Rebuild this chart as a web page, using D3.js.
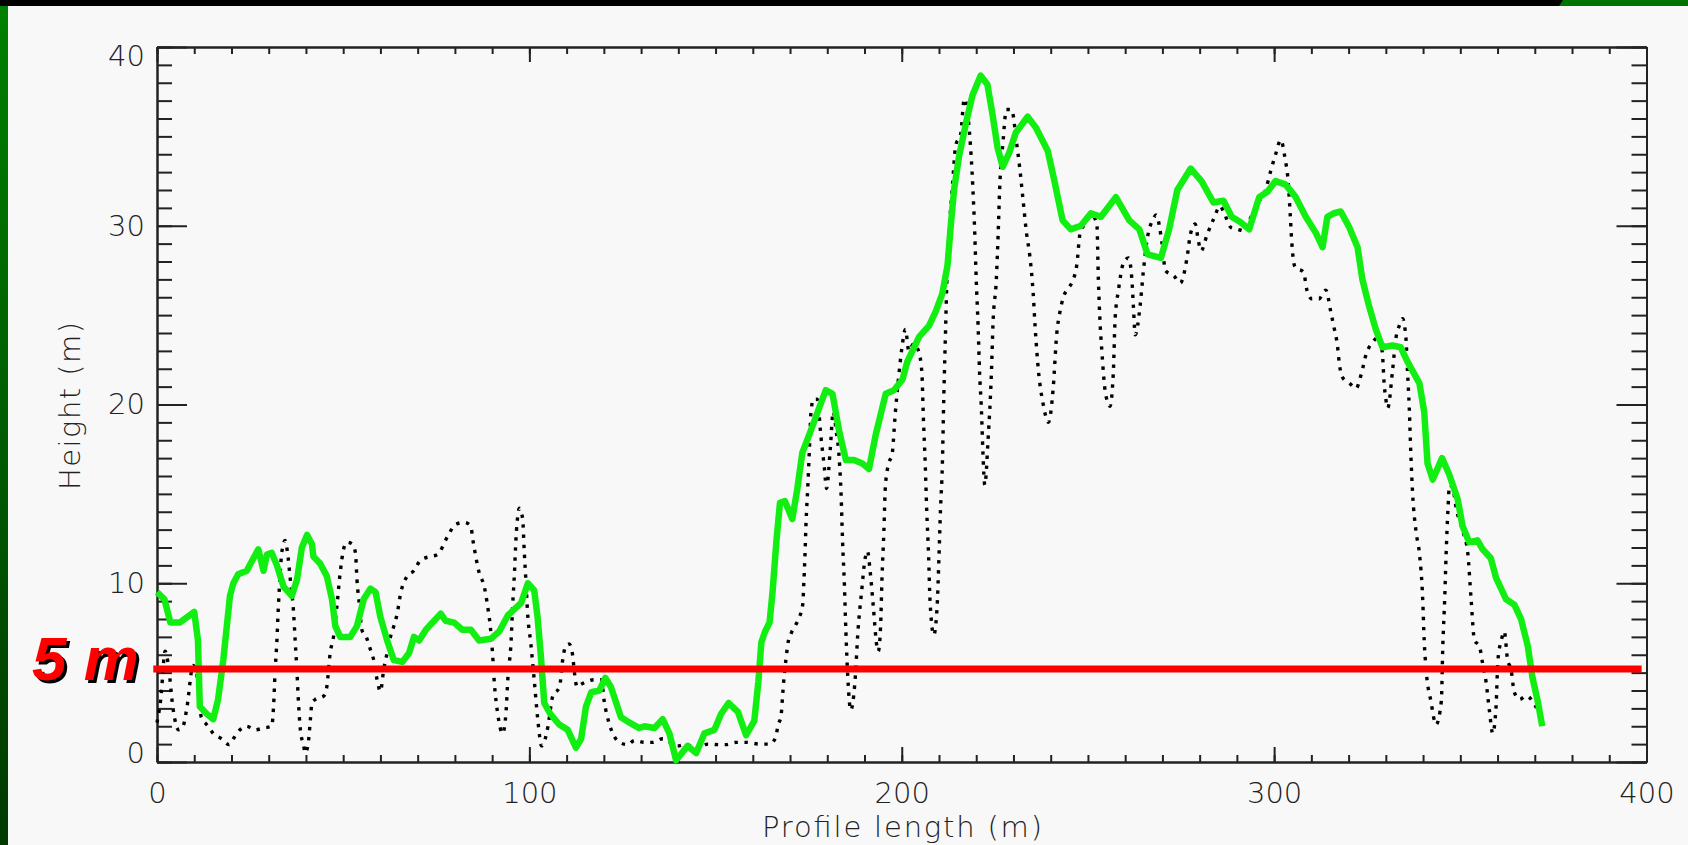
<!DOCTYPE html>
<html>
<head>
<meta charset="utf-8">
<script src="https://cdn.jsdelivr.net/npm/d3@7"></script>
<style>
  body { margin: 0; background: #f8f8f8; }
  svg { display: block; }
  .tick text { font-family: "DejaVu Sans", sans-serif; font-weight: 200; fill: #222; }
</style>
</head>
<body>
<svg id="canvas"></svg>
<script>
const width = 1688, height = 845;

/* data */
const xTicks = [0, 100, 200, 300, 400];
const yTicks = [0, 10, 20, 30, 40];
const threshold = 5.2;

const smoothDist = [0, 2, 3.6, 6.1, 10, 11, 11.5, 13.3, 15.1, 16.4, 17.8, 19.6, 20.5, 21.8, 24.1, 25.9, 27.2, 28.6, 29.5, 30.8,
  32.2, 34, 36.2, 37.6, 38.9, 40.3, 41.6, 42, 43.8, 45.6, 47, 47.9, 49.2, 51.9, 53.7, 55.5, 57.3, 58.7, 60, 61.8,
  63.6, 65.9, 67.7, 69, 70.4, 72.2, 74, 76.2, 77.5, 79.8, 82, 84.3, 86.5, 89.7, 91.9, 94.2, 97.8, 99.6, 101.3, 102.2,
  103.1, 104, 105.6, 108, 110.3, 112.5, 113.9, 115.2, 116.6, 118.8, 120.4, 121.9, 124.6, 126.9, 129.5, 130.9, 133.6, 135.8, 137.6, 139.4,
  142.5, 144.8, 147, 149.7, 151.5, 153.5, 156, 158.2, 160.4, 161.5, 162.3, 163.3, 164.5, 165.3, 166.4, 167.3, 168.6, 170.6, 171.9, 173.3,
  175.5, 177.8, 179.6, 181.4, 183.2, 185, 187.2, 189.4, 191.2, 193, 195.7, 197.9, 200.2, 201.5, 204.7, 207.3, 209.1, 210.9, 212.3, 213.2,
  214.1, 215.4, 217.2, 219, 221.2, 223, 224.4, 225.7, 227.1, 228.9, 230.6, 233.8, 236, 239.2, 240.9, 243.2, 245.4, 248.1, 250.8, 253.5,
  257.5, 261.1, 263.8, 266, 269.6, 271.8, 274, 277.6, 280.5, 283.7, 286.4, 288.6, 291, 293.3, 296, 298.2, 300.4, 303.1, 305.8, 308.5,
  311.2, 313, 314.3, 316.1, 317.9, 320.2, 322.4, 323.7, 325.5, 327.3, 329.1, 331.8, 334, 335.8, 339, 340.3, 341.2, 342.6, 345.1, 347,
  349.3, 350.6, 352.4, 354.6, 356, 358.2, 359.6, 362.3, 364.5, 366.3, 368.1, 369.4, 370.8, 372];
const smoothHeight = [9.5, 9.1, 7.8, 7.8, 8.4, 6.8, 3.1, 2.7, 2.4, 3.5, 5.7, 9.3, 10.0, 10.5, 10.7, 11.4, 11.9, 10.7, 11.6, 11.7,
  11.0, 9.8, 9.3, 10.2, 12.0, 12.7, 12.2, 11.5, 11.1, 10.4, 9.1, 7.6, 7.0, 7.0, 7.6, 9.1, 9.7, 9.5, 8.1, 6.8,
  5.7, 5.6, 6.1, 7.0, 6.8, 7.4, 7.8, 8.3, 7.9, 7.8, 7.4, 7.4, 6.8, 6.9, 7.3, 8.2, 8.9, 10.0, 9.6, 8.1,
  5.9, 3.3, 2.7, 2.1, 1.8, 0.8, 1.3, 3.1, 3.9, 4.0, 4.7, 4.2, 2.5, 2.2, 1.9, 2.0, 1.9, 2.4, 1.6, 0.1,
  0.9, 0.5, 1.6, 1.8, 2.7, 3.3, 2.8, 1.5, 2.3, 4.5, 6.7, 7.3, 7.8, 9.5, 12.5, 14.5, 14.6, 13.6, 15.2, 17.3,
  18.5, 19.8, 20.8, 20.6, 18.5, 16.9, 16.9, 16.7, 16.4, 18.3, 20.6, 20.8, 21.4, 22.4, 23.8, 24.4, 25.2, 26.2, 27.8, 30.1,
  32.1, 33.9, 35.7, 37.3, 38.4, 37.9, 36.2, 34.4, 33.3, 34.1, 35.2, 36.1, 35.5, 34.2, 32.6, 30.3, 29.8, 30.0, 30.7, 30.5,
  31.6, 30.3, 29.8, 28.4, 28.2, 29.8, 32.0, 33.2, 32.5, 31.3, 31.4, 30.5, 30.2, 29.8, 31.6, 31.9, 32.5, 32.3, 31.6, 30.5,
  29.6, 28.8, 30.5, 30.7, 30.8, 29.9, 28.8, 27.0, 25.5, 24.2, 23.2, 23.3, 23.2, 22.4, 21.2, 19.6, 16.7, 15.8, 17.0, 16.1,
  14.7, 13.2, 12.3, 12.4, 11.9, 11.4, 10.3, 9.1, 8.8, 8.0, 6.5, 4.7, 3.4, 2.0];

const rawDist = [0, 1, 2.2, 3, 4.3, 5.8, 7, 8, 9.7, 10.6, 11.9, 13.3, 15.1, 17.3, 19.4, 20.5, 22.3, 24.1, 26.3, 28.6,
  30.8, 31.3, 31.7, 32.2, 32.6, 33.1, 33.5, 34.4, 35, 35.8, 36.7, 37.1, 37.6, 38, 38.5, 39.4, 39.8, 40.7, 41.2, 41.6,
  42.5, 44.8, 45.6, 46.5, 47.4, 48.3, 49.2, 50.1, 51, 52.4, 53.3, 53.7, 54.4, 55, 56.2, 57.3, 58.2, 59.1, 60, 60.9,
  61.8, 62.7, 63.6, 64.5, 65.4, 67.2, 69, 70.8, 73.5, 75.3, 78, 80.2, 82.5, 84.3, 84.7, 85.6, 86.5, 87.9, 88.8, 89.5,
  90.1, 90.6, 91.5, 92.8, 93.7, 94.2, 95.1, 95.5, 96, 96.4, 96.9, 97.3, 98.2, 98.6, 99.1, 99.5, 100.4, 101.3, 102.2, 103.3,
  104.5, 105, 106.3, 108.1, 109, 109.8, 110.7, 111.6, 112.1, 112.8, 113.5, 115.5, 117.5, 119.3, 120.1, 121.5, 122.4, 124.2, 126.4, 128.2,
  130.9, 133.1, 135.8, 139.8, 142.1, 144.8, 147.9, 151, 152.8, 155.5, 158.2, 161.8, 164.5, 166.2, 166.7, 167.6, 168, 168.5, 169, 169.4,
  170.3, 171.6, 172.5, 173.4, 173.7, 174, 174.3, 174.8, 175.2, 175.6, 176.3, 177.3, 178.3, 179.2, 179.8, 180.8, 181.6, 182.4, 183.2, 183.7,
  184.1, 184.6, 185, 185.5, 186.3, 187.4, 188.3, 189.2, 190.1, 190.8, 191.5, 192.4, 193.3, 193.7, 194.3, 194.7, 195.2, 195.6, 196.5, 197.4,
  198.3, 199.1, 200, 201, 201.9, 203.2, 204.5, 205.4, 205.8, 206.3, 206.7, 207.2, 207.6, 208.6, 209.5, 210, 210.4, 210.9, 211.3, 211.8,
  212.2, 212.7, 213.6, 214.5, 215.8, 216.8, 218.2, 219.1, 219.6, 220, 220.5, 220.9, 221.4, 221.8, 222.3, 223.2, 224.1, 224.5, 225.4, 225.9,
  226.3, 227.2, 228.1, 229.5, 230.8, 231.7, 232.6, 233.5, 234.4, 235.3, 235.8, 236.7, 238, 239.4, 240.7, 241.6, 242.5, 243.4, 244.7, 246.1,
  247, 247.9, 249.2, 251, 252.4, 252.8, 253.3, 253.7, 254.6, 255.9, 256.8, 257.3, 258.2, 259.5, 260.9, 261.8, 262.2, 262.7, 264, 264.9,
  265.8, 267.6, 268.3, 269.9, 270.8, 273.1, 274.8, 276.6, 277.5, 278.8, 279.7, 280.4, 282, 283.8, 285.5, 286.4, 288.4, 290.2, 292.3, 293.6,
  295.4, 297.7, 299, 300.4, 301.8, 302.9, 303.8, 304.3, 304.7, 305.6, 307.9, 308.8, 310.2, 312, 313.9, 315.2, 316.1, 317, 317.5, 318.4,
  320.2, 322, 323.4, 324.7, 326.5, 328.2, 329.1, 329.5, 330, 330.5, 331.8, 332.7, 333.6, 334.5, 335.4, 335.8, 336.3, 336.7, 337.2, 338.1,
  339, 339.9, 340.3, 340.8, 342.1, 343.5, 344.9, 345.3, 345.8, 346.2, 346.7, 347.1, 348, 348.9, 350.7, 352, 352.9, 353.8, 355.1, 356,
  356.9, 357.8, 358.7, 359.6, 360.1, 361, 361.8, 362.7, 363.6, 364.5, 365.9, 367.7, 369.4, 370.7, 371.7];
const rawHeight = [2.2, 3.5, 6.2, 5.5, 3.0, 1.8, 2.0, 3.0, 5.4, 5.0, 2.5, 2.1, 1.6, 1.3, 0.97, 1.3, 1.8, 2.0, 1.8, 1.9,
  2.0, 3.1, 5.0, 6.8, 8.7, 10.6, 11.7, 12.4, 11.8, 10.2, 8.3, 6.8, 5.0, 3.3, 1.8, 0.9, 0.5, 1.2, 2.4, 3.3,
  3.5, 3.7, 4.2, 6.1, 7.0, 8.7, 10.6, 11.9, 12.3, 12.2, 11.7, 10.2, 8.7, 7.4, 7.0, 6.3, 5.7, 4.6, 3.95, 5.2,
  6.1, 7.0, 7.6, 8.3, 9.4, 10.4, 10.7, 11.3, 11.5, 11.6, 12.6, 13.3, 13.4, 13.2, 12.6, 11.5, 10.6, 9.8, 8.7, 7.6,
  6.1, 4.4, 2.7, 1.6, 2.7, 4.6, 6.8, 8.7, 10.6, 12.5, 13.8, 14.2, 13.6, 11.9, 10.0, 8.4, 6.6, 4.6, 2.5, 0.9,
  1.5, 2.0, 3.7, 4.2, 5.8, 6.5, 6.6, 6.0, 5.0, 4.2, 4.3, 4.5, 4.6, 4.6, 3.4, 2.1, 1.6, 1.1, 0.97, 1.2,
  1.1, 1.1, 1.3, 0.9, 1.0, 0.7, 1.0, 0.97, 0.97, 1.1, 1.1, 1.0, 1.0, 1.4, 2.0, 2.6, 3.7, 5.0, 5.9, 6.6,
  7.2, 7.7, 8.1, 8.8, 10, 11.5, 13.4, 15.5, 17.5, 19.5, 20.3, 20.3, 18.2, 16.5, 15.3, 17.5, 19.6, 18.5, 17.0, 15.0,
  12.4, 9.9, 7.3, 4.8, 2.9, 4.4, 7.5, 9.5, 11.3, 11.8, 10.7, 8.6, 6.5, 6.2, 7.5, 10.3, 12.9, 15.4, 16.7, 17.2,
  19.6, 21.4, 23.1, 24.2, 23.0, 23.4, 23.0, 21.8, 19.3, 16.7, 14.1, 11.6, 9.0, 7.1, 8.7, 11.5, 14.1, 16.6, 20.5, 24.4,
  27.5, 29.6, 32.2, 34.5, 35.1, 37.1, 35.2, 32.1, 29.6, 27.0, 24.4, 21.8, 19.7, 17.3, 15.5, 18.1, 21.9, 24.5, 27.0, 29.6,
  32.1, 34.7, 36.5, 36.5, 34.7, 33.2, 31.4, 29.6, 28.3, 26.2, 24.4, 21.9, 20.0, 19.0, 21.0, 23.9, 25.2, 26.0, 26.5, 27.0,
  27.8, 29.6, 30.1, 30.6, 30.1, 27.0, 24.4, 23.1, 20.8, 19.9, 21.7, 24.8, 26.4, 27.9, 28.2, 27.0, 25.5, 23.9, 25.5, 27.5,
  29.1, 30.4, 30.6, 29.0, 27.5, 27.2, 26.8, 28.2, 29.5, 30.1, 29.1, 28.6, 29.5, 30.4, 31.1, 30.8, 29.9, 29.8, 29.7, 30.4,
  31.2, 32.0, 33.0, 34.0, 34.8, 33.8, 32.4, 30.7, 29.2, 27.7, 27.4, 26.4, 25.9, 25.9, 26.4, 25.2, 24.3, 23.3, 22.3, 21.5,
  21.2, 20.9, 21.7, 22.8, 23.5, 23.8, 22.8, 21.3, 20.3, 19.8, 21.9, 23.7, 24.4, 24.8, 23.7, 21.9, 19.8, 17.3, 15.0, 12.9,
  11.7, 9.1, 6.8, 5.2, 3.4, 2.1, 3.4, 6.5, 9.1, 11.7, 14.2, 15.5, 15.3, 14.2, 12.9, 11.7, 9.1, 6.8, 6.5, 5.5,
  4.5, 2.9, 1.6, 3.1, 5.7, 6.8, 7.3, 5.7, 5.2, 3.9, 3.5, 3.7, 3.4, 2.9, 2.3];

/* Sets up svg */
const svg = d3.select("#canvas")
    .attr("width", width)
    .attr("height", height)
    .style("background-color", "#f8f8f8");

/* slide decoration: black top bar, green strips */
const defs = svg.append("defs");
const grad = defs.append("linearGradient")
    .attr("id", "sideGreen")
    .attr("x1", 0).attr("y1", 0).attr("x2", 0).attr("y2", 1);
grad.append("stop").attr("offset", "0%").attr("stop-color", "#008000");
grad.append("stop").attr("offset", "100%").attr("stop-color", "#003a00");

svg.append("rect")
    .attr("x", 0).attr("y", 6)
    .attr("width", 8).attr("height", height - 6)
    .attr("fill", "url(#sideGreen)");
svg.append("rect")
    .attr("x", 0).attr("y", 0)
    .attr("width", width).attr("height", 6)
    .attr("fill", "#000");
svg.append("path")
    .attr("d", "M1559,6 L1563,0 L1688,0 L1688,6 Z")
    .attr("fill", "#007400");

/* scales */
const x = d3.scaleLinear().domain([0, 400]).range([157, 1646.5]);
const y = d3.scaleLinear().domain([0, 40]).range([762, 47]);

const xMinor = d3.range(0, 401, 10);
const yMinor = d3.range(0, 41, 1);

function styleAxis(g) {
    g.select(".domain").attr("stroke", "#222").attr("stroke-width", 2);
    g.selectAll(".tick line").attr("stroke", "#222").attr("stroke-width", 2);
}

/* minor ticks */
svg.append("g").attr("transform", `translate(0,${y(0)})`)
    .call(d3.axisBottom(x).tickValues(xMinor).tickSize(-7).tickSizeOuter(0).tickFormat(""))
    .call(styleAxis);
svg.append("g").attr("transform", `translate(0,${y(40)})`)
    .call(d3.axisTop(x).tickValues(xMinor).tickSize(-7).tickSizeOuter(0).tickFormat(""))
    .call(styleAxis);
svg.append("g").attr("transform", `translate(${x(0)},0)`)
    .call(d3.axisLeft(y).tickValues(yMinor).tickSize(-15).tickSizeOuter(0).tickFormat(""))
    .call(styleAxis);
svg.append("g").attr("transform", `translate(${x(400)},0)`)
    .call(d3.axisRight(y).tickValues(yMinor).tickSize(-15).tickSizeOuter(0).tickFormat(""))
    .call(styleAxis);

/* major ticks and labels */
const xAxis = svg.append("g").attr("transform", `translate(0,${y(0)})`)
    .call(d3.axisBottom(x).tickValues(xTicks).tickSize(-15).tickSizeOuter(0).tickPadding(20).tickFormat(d3.format("d")))
    .call(styleAxis);
svg.append("g").attr("transform", `translate(0,${y(40)})`)
    .call(d3.axisTop(x).tickValues(xTicks).tickSize(-15).tickSizeOuter(0).tickFormat(""))
    .call(styleAxis);
const yAxis = svg.append("g").attr("transform", `translate(${x(0)},0)`)
    .call(d3.axisLeft(y).tickValues(yTicks).tickSize(-30).tickSizeOuter(0).tickPadding(12).tickFormat(d3.format("d")))
    .call(styleAxis);
svg.append("g").attr("transform", `translate(${x(400)},0)`)
    .call(d3.axisRight(y).tickValues(yTicks).tickSize(-30).tickSizeOuter(0).tickFormat(""))
    .call(styleAxis);

xAxis.selectAll("text").attr("font-size", 29);
yAxis.selectAll("text").attr("font-size", 29);
/* end labels sit inside the axis range */
yAxis.selectAll(".tick text").attr("y", d => d === 40 ? 9 : d === 0 ? -9 : 0);

/* axis titles */
svg.append("text")
    .attr("x", 902).attr("y", 837)
    .attr("text-anchor", "middle")
    .attr("font-family", "DejaVu Sans, sans-serif")
    .attr("font-weight", 200)
    .attr("font-size", 29)
    .attr("fill", "#222")
    .attr("textLength", 280)
    .text("Profile length (m)");
svg.append("text")
    .attr("transform", "translate(80,406) rotate(-90)")
    .attr("text-anchor", "middle")
    .attr("font-family", "DejaVu Sans, sans-serif")
    .attr("font-weight", 200)
    .attr("font-size", 29)
    .attr("fill", "#222")
    .attr("textLength", 168)
    .text("Height (m)");

/* lines */
const rawLine = d3.line()
    .x((d, i) => x(rawDist[i]))
    .y(d => y(d))
    .curve(d3.curveMonotoneX);
const smoothLine = d3.line()
    .x((d, i) => x(smoothDist[i]))
    .y(d => y(d));

svg.append("path")
    .datum(rawHeight)
    .attr("d", rawLine)
    .attr("fill", "none")
    .attr("stroke", "#000")
    .attr("stroke-width", 3.4)
    .attr("stroke-dasharray", "3.4 6.6");

svg.append("path")
    .datum(smoothHeight)
    .attr("d", smoothLine)
    .attr("fill", "none")
    .attr("stroke", "#12ee12")
    .attr("stroke-width", 6.5)
    .attr("stroke-linejoin", "round");

/* 5 m threshold */
svg.append("line")
    .attr("x1", x(-1)).attr("x2", x(398.7))
    .attr("y1", y(threshold)).attr("y2", y(threshold))
    .attr("stroke", "#ff0000")
    .attr("stroke-width", 7);

const label = svg.append("g")
    .attr("font-family", "Liberation Sans, Arial, sans-serif")
    .attr("font-weight", "bold")
    .attr("font-style", "italic")
    .attr("font-size", 62);
label.append("text").attr("x", 35).attr("y", 683).attr("fill", "#000").text("5 m");
label.append("text").attr("x", 32).attr("y", 680).attr("fill", "#ff0000").text("5 m");
</script>
</body>
</html>
